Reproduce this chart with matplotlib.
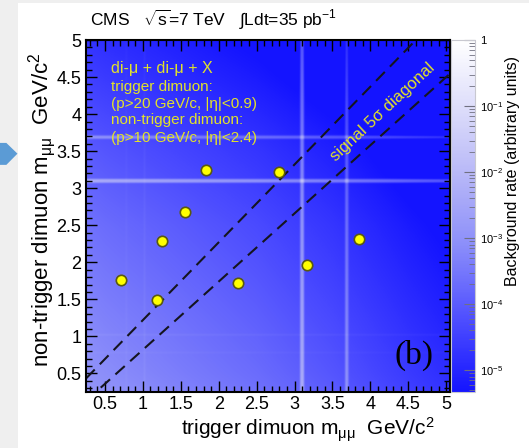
import numpy as np
import matplotlib
matplotlib.use("Agg")
import matplotlib.pyplot as plt
from matplotlib.colors import LinearSegmentedColormap, LogNorm
from matplotlib.patches import Rectangle, Polygon

plt.rcParams['font.family'] = ['Liberation Sans', 'DejaVu Sans']
plt.rcParams['mathtext.fontset'] = 'custom'
plt.rcParams['mathtext.rm'] = 'Liberation Sans'
plt.rcParams['mathtext.it'] = 'Liberation Sans'
plt.rcParams['mathtext.bf'] = 'Liberation Sans:bold'

# --- datos: eventos observados (masa del dimuon de disparo / no disparo) ---
trig_mass = [0.71, 1.19, 1.25, 1.55, 1.83, 2.79, 2.25, 3.16, 3.85]
nontrig_mass = [1.76, 1.49, 2.29, 2.68, 3.24, 3.22, 1.72, 1.96, 2.32]

# --- fondo: continuo (log10) y resonancias por eje ---
cont_mass = [0.25, 0.5, 1.0, 1.5, 2.0, 2.5, 3.0, 3.5, 4.0, 4.5, 5.05]
cont_log = [-1.45, -1.55, -1.70, -1.85, -2.00, -2.15, -2.35, -2.55, -2.80, -3.05, -3.30]
res_mass = [0.78, 1.02, 3.10, 3.69]
res_amp = [0.004, 0.006, 0.15, 0.03]
res_width = [0.010, 0.010, 0.012, 0.012]

# --- diagonal de señal 5 sigma: (pendiente, ordenada) ---
diag_lines = [(1.05, 0.17), (0.92, -0.10)]

xlim = (0.25, 5.05)
ylim = (0.25, 5.0)

cb_ticks = [1e-5, 1e-4, 1e-3, 1e-2, 1e-1, 1]
cb_labels = ['$10^{-5}$', '$10^{-4}$', '$10^{-3}$', '$10^{-2}$', '$10^{-1}$', '1']


def perfil(m):
    f = 10 ** np.interp(m, cont_mass, cont_log)
    for mu, a, w in zip(res_mass, res_amp, res_width):
        f = f + a * np.exp(-0.5 * ((m - mu) / w) ** 2)
    return f


fig = plt.figure(figsize=(5.29, 4.48), dpi=100)
fig.patch.set_facecolor('#efefef')
fig.patches.append(Rectangle((18 / 529, 0), 1, 1 - 3 / 448, transform=fig.transFigure,
                             facecolor='white', edgecolor='none', zorder=-1))
fig.patches.append(Polygon([(0, 0.681), (0.012, 0.681), (0.033, 0.657), (0.012, 0.632), (0, 0.632)],
                           closed=True, transform=fig.transFigure, facecolor='#5b9bd5',
                           edgecolor='none'))

ax = fig.add_axes([86 / 529, 1 - 392 / 448, (450 - 86) / 529, (392 - 40) / 448])

cmap = LinearSegmentedColormap.from_list('azul', [
    (0.00, (0.08, 0.08, 1.00)),
    (0.20, (0.30, 0.30, 1.00)),
    (0.42, (0.55, 0.56, 0.98)),
    (0.62, (0.72, 0.72, 0.97)),
    (0.80, (0.86, 0.86, 0.98)),
    (1.00, (1.00, 1.00, 1.00)),
])
norm = LogNorm(vmin=10 ** -5.33, vmax=1)

gx = np.linspace(xlim[0], xlim[1], 800)
gy = np.linspace(ylim[0], ylim[1], 800)
fondo = np.outer(perfil(gy), perfil(gx))
fondo = np.clip(fondo, 10 ** -5.33, 1)
im = ax.imshow(fondo, origin='lower', extent=[xlim[0], xlim[1], ylim[0], ylim[1]],
               aspect='auto', cmap=cmap, norm=norm, interpolation='bilinear')

xs = np.array(xlim)
for k, b in diag_lines:
    ax.plot(xs, k * xs + b, color='#15151f', lw=1.5, dashes=(6, 3.5))

ax.plot(trig_mass, nontrig_mass, 'o', ms=7.5, mfc='#ffff00', mec='#5a5a10', mew=1.2, zorder=5)

ax.set_xlim(*xlim)
ax.set_ylim(*ylim)
ax.set_xticks(np.arange(0.5, 5.01, 0.5))
ax.set_yticks(np.arange(0.5, 5.01, 0.5))
ax.set_xticklabels(['0.5', '1', '1.5', '2', '2.5', '3', '3.5', '4', '4.5', '5'])
ax.set_yticklabels(['0.5', '1', '1.5', '2', '2.5', '3', '3.5', '4', '4.5', '5'])
ax.set_xticks(np.arange(0.3, 5.05, 0.1), minor=True)
ax.set_yticks(np.arange(0.3, 5.0, 0.1), minor=True)
ax.tick_params(which='both', direction='in', top=True, right=True, color='black', labelsize=13)
ax.tick_params(axis='x', pad=3)
ax.tick_params(which='major', length=8, width=1)
ax.tick_params(which='minor', length=4, width=1)
for s in ax.spines.values():
    s.set_linewidth(1.5)

amarillo = '#e2e22a'
ax.text(0.58, 4.62, 'di-μ + di-μ + X', color=amarillo, fontsize=11.5, va='center')
ax.text(0.58, 4.37, 'trigger dimuon:', color=amarillo, fontsize=11, va='center')
ax.text(0.58, 4.14, '(p>20 GeV/c, |η|<0.9)', color=amarillo, fontsize=11, va='center')
ax.text(0.58, 3.92, 'non-trigger dimuon:', color=amarillo, fontsize=11, va='center')
ax.text(0.58, 3.68, '(p>10 GeV/c, |η|<2.4)', color=amarillo, fontsize=11, va='center')
ax.text(4.16, 4.03, 'signal 5σ diagonal', color=amarillo, fontsize=12, rotation=43,
        ha='center', va='center', rotation_mode='anchor')
ax.text(4.58, 0.74, '(b)', fontsize=24, family='Liberation Serif', ha='center', va='center')

fig.text(0.581, 0.040, 'trigger dimuon m$_{μμ}$  GeV/c$^2$', fontsize=15, ha='center', va='center')
fig.text(0.079, 0.531, 'non-trigger dimuon m$_{μμ}$  GeV/c$^2$', fontsize=16, rotation=90,
         ha='center', va='center')
fig.text(90 / 529, 0.955, r'CMS   $\sqrt{s}$=7 TeV   $\int$Ldt=35 pb$^{-1}$', fontsize=12.5,
         ha='left', va='center')

cax = fig.add_axes([451 / 529, 1 - 392 / 448, 24 / 529, (392 - 40) / 448])
cb = fig.colorbar(im, cax=cax)
cb.set_ticks(cb_ticks)
cb.set_ticklabels(cb_labels)
cb.outline.set_edgecolor('#c8c8d0')
cax.tick_params(which='both', direction='in', color='#707080', labelsize=8, right=True)
cax.tick_params(which='major', length=8)
cax.tick_params(which='minor', length=4)
fig.text(0.968, 0.618, 'Background rate (arbitrary units)', fontsize=11.5, rotation=90,
         ha='center', va='center')

fig.savefig('out.png', dpi=100)
